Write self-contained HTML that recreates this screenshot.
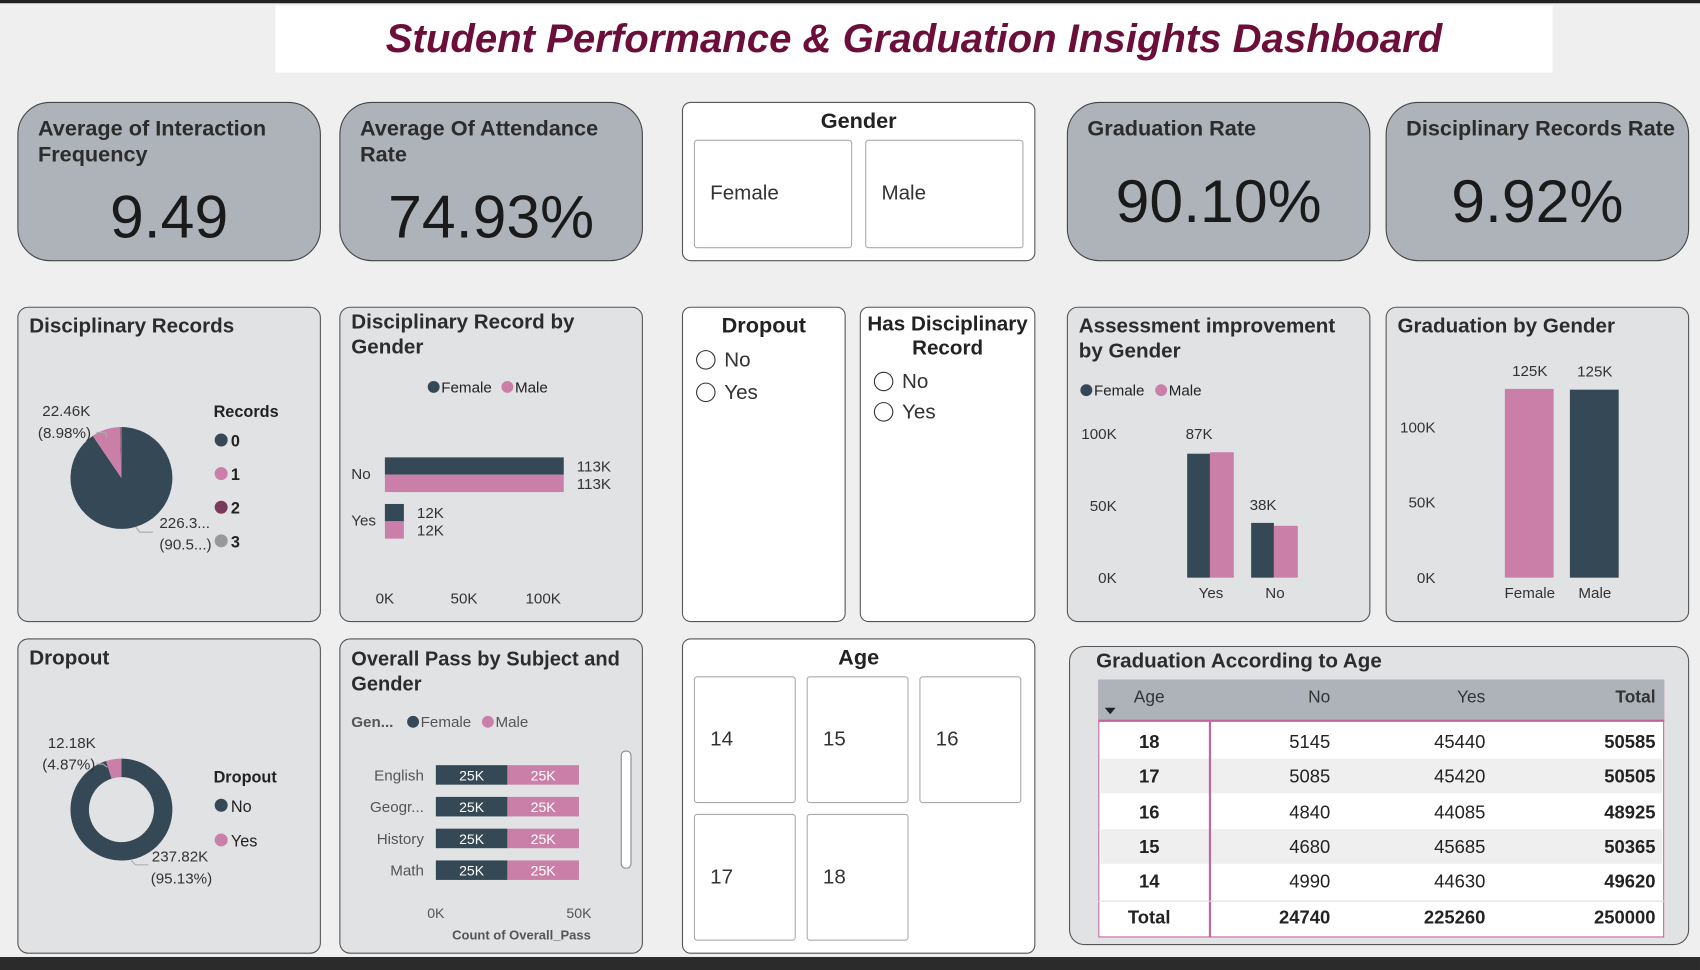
<!DOCTYPE html>
<html><head><meta charset="utf-8"><style>
html,body{margin:0;padding:0;width:1700px;height:970px;overflow:hidden;background:#efefef;font-family:"Liberation Sans",sans-serif;}
#wrap{position:absolute;left:0;top:0;width:1568px;height:895px;transform:scale(1.08418,1.0838);transform-origin:0 0;background:#efefef;}
.abs{position:absolute;box-sizing:border-box;}
.kpi{background:#adb3b9;border:1.5px solid #444;border-radius:30px;}
.kpi .t{position:absolute;left:18px;top:12px;font-size:20px;font-weight:bold;color:#2c2c2c;line-height:24px;}
.kpi .v{position:absolute;left:0;right:0;text-align:center;top:72px;font-size:56px;color:#1a1a1a;}
.card{background:#e1e2e4;border:1.5px solid #555;border-radius:10px;}
.card .t{position:absolute;left:10px;top:6px;font-size:19px;font-weight:bold;color:#2c2c2c;line-height:23px;}
.sl{background:#fff;border:1.5px solid #555;border-radius:8px;}
.tile{position:absolute;background:#fff;border:1px solid #aaa;border-radius:3px;font-size:19px;color:#333;box-sizing:border-box;display:flex;align-items:center;padding-left:14px;}
svg text{font-family:"Liberation Sans",sans-serif;}
.rad{font-size:19px;color:#333;position:absolute;}
.rad span{display:inline-block;width:16px;height:16px;border:1.5px solid #333;border-radius:50%;vertical-align:-3px;margin-right:8px;}
</style></head><body>
<div id="wrap">
<div class="abs" style="left:0;top:0;width:1568px;height:3px;background:#222"></div>
<div class="abs" style="left:254px;top:5px;width:1178px;height:62px;background:#fff;text-align:center;font-size:37px;font-weight:bold;font-style:italic;color:#6b0f3a;line-height:62px">Student Performance &amp; Graduation Insights Dashboard</div>

<div class="abs kpi" style="left:16px;top:94px;width:280px;height:147px"><div class="t">Average of Interaction<br>Frequency</div><div class="v">9.49</div></div>
<div class="abs kpi" style="left:313px;top:94px;width:280px;height:147px"><div class="t">Average Of Attendance<br>Rate</div><div class="v">74.93%</div></div>
<div class="abs kpi" style="left:984px;top:94px;width:280px;height:147px"><div class="t">Graduation Rate</div><div class="v" style="top:58px">90.10%</div></div>
<div class="abs kpi" style="left:1278px;top:94px;width:280px;height:147px"><div class="t">Disciplinary Records Rate</div><div class="v" style="top:58px">9.92%</div></div>

<div class="abs sl" style="left:629px;top:94px;width:326px;height:147px">
<div style="text-align:center;font-size:20px;font-weight:bold;margin-top:6px;color:#222">Gender</div>
<div class="tile" style="left:10px;top:34px;width:146px;height:100px">Female</div>
<div class="tile" style="left:168px;top:34px;width:146px;height:100px">Male</div>
</div>

<div class="abs sl" style="left:629px;top:283px;width:151px;height:291px">
<div style="text-align:center;font-size:20px;font-weight:bold;margin-top:6px;color:#222">Dropout</div>
<div class="rad" style="left:12px;top:38px"><span></span>No</div>
<div class="rad" style="left:12px;top:68px"><span></span>Yes</div>
</div>
<div class="abs sl" style="left:793px;top:283px;width:162px;height:291px">
<div style="text-align:center;font-size:19px;font-weight:bold;margin-top:5px;color:#222;line-height:22px">Has Disciplinary<br>Record</div>
<div class="rad" style="left:12px;top:58px"><span></span>No</div>
<div class="rad" style="left:12px;top:86px"><span></span>Yes</div>
</div>

<div class="abs sl" style="left:629px;top:589px;width:326px;height:291px">
<div style="text-align:center;font-size:20px;font-weight:bold;margin-top:6px;color:#222">Age</div>
<div class="tile" style="left:10px;top:34px;width:94px;height:117px">14</div>
<div class="tile" style="left:114px;top:34px;width:94px;height:117px">15</div>
<div class="tile" style="left:218px;top:34px;width:94px;height:117px">16</div>
<div class="tile" style="left:10px;top:161px;width:94px;height:117px">17</div>
<div class="tile" style="left:114px;top:161px;width:94px;height:117px">18</div>
</div>

<div class="abs card" style="left:16px;top:283px;width:280px;height:291px"><div class="t">Disciplinary Records</div><svg id="pie1" class="abs" style="left:0;top:0" width="280" height="291"></svg></div>
<div class="abs card" style="left:313px;top:283px;width:280px;height:291px"><div class="t" style="top:2px">Disciplinary Record by<br>Gender</div><svg id="hbar" class="abs" style="left:0;top:0" width="280" height="291"></svg></div>
<div class="abs card" style="left:984px;top:283px;width:280px;height:291px"><div class="t">Assessment improvement<br>by Gender</div><svg id="assess" class="abs" style="left:0;top:0" width="280" height="291"></svg></div>
<div class="abs card" style="left:1278px;top:283px;width:280px;height:291px"><div class="t">Graduation by Gender</div><svg id="grad" class="abs" style="left:0;top:0" width="280" height="291"></svg></div>
<div class="abs card" style="left:16px;top:589px;width:280px;height:291px"><div class="t">Dropout</div><svg id="donut" class="abs" style="left:0;top:0" width="280" height="291"></svg></div>
<div class="abs card" style="left:313px;top:589px;width:280px;height:291px"><div class="t" style="font-size:18.5px">Overall Pass by Subject and<br>Gender</div><svg id="pass" class="abs" style="left:0;top:0" width="280" height="291"></svg></div>

<div class="abs card" style="left:986px;top:596px;width:572px;height:276px;border-radius:14px"><div class="t" style="left:24px;top:2px;font-size:19px">Graduation According to Age</div><div id="tbl" class="abs" style="left:26px;top:30px;width:522px;height:238px"></div></div>

<div class="abs" style="left:0;top:883px;width:1568px;height:12px;background:#2b2b2b"></div>
</div>
<script>
const DARK="#344855",PINK="#c97fa8";
const NS="http://www.w3.org/2000/svg";
function mk(svg,tag,at,txt){const e=document.createElementNS(NS,tag);for(const k in at)e.setAttribute(k,at[k]);if(txt!==undefined)e.textContent=txt;svg.appendChild(e);return e;}
// ---- data ----
const recCats=["0","1","2","3"];
const recVals=[226.3,22.46,0.7,0.6];
const recColors=[DARK,PINK,"#7a3a5a","#999"];
const dropCats=["No","Yes"];
const dropVals=[237.82,12.18];
const discCats=["No","Yes"];
const discFemale=[113,12];
const discMale=[113,12];
const assessCats=["Yes","No"];
const assessFemale=[86,38];
const assessMale=[87,36];
const gradCats=["Female","Male"];
const gradVals=[125.3,124.8];
const subjects=["English","Geogr...","History","Math"];
const passFemale=[25,25,25,25];
const passMale=[25,25,25,25];
const ages=["18","17","16","15","14"];
const ageNo=[5145,5085,4840,4680,4990];
const ageYes=[45440,45420,44085,45685,44630];

function pie(svg,cx,cy,r,ri,vals,cols,name){
  const tot=vals.reduce((a,b)=>a+b,0);let a0=0;
  vals.forEach((v,i)=>{const a1=a0+v/tot*2*Math.PI;
    const p=(a,rr)=>[cx+rr*Math.sin(a),cy-rr*Math.cos(a)];
    const[x0,y0]=p(a0,r),[x1,y1]=p(a1,r),lg=(a1-a0)>Math.PI?1:0;
    let d=`M${x0},${y0}A${r},${r} 0 ${lg} 1 ${x1},${y1}`;
    if(ri>0){const[x2,y2]=p(a1,ri),[x3,y3]=p(a0,ri);d+=`L${x2},${y2}A${ri},${ri} 0 ${lg} 0 ${x3},${y3}Z`;}else d+=`L${cx},${cy}Z`;
    const e=mk(svg,"path",{d:d,fill:cols[i]});
    
    
    a0=a1;});
}
(function(){const s=document.getElementById("pie1");const tot=recVals.reduce((a,b)=>a+b,0);
pie(s,95,157,47,0,recVals,recColors,"records");
mk(s,"text",{x:22,y:100,"font-size":14,fill:"#333"},recVals[1].toFixed(2)+"K");
mk(s,"text",{x:18,y:120,"font-size":14,fill:"#333"},"("+(recVals[1]/tot*100).toFixed(2)+"%)");
mk(s,"text",{x:130,y:203,"font-size":14,fill:"#333"},"226.3...");
mk(s,"text",{x:130,y:223,"font-size":14,fill:"#333"},"(90.5...)");
mk(s,"polyline",{points:"72,115 80,115 82,120",fill:"none",stroke:"#aaa"});
mk(s,"polyline",{points:"108,202 112,207 124,207",fill:"none",stroke:"#aaa"});
mk(s,"text",{x:180,y:101,"font-size":15,"font-weight":"bold",fill:"#222"},"Records");
recCats.forEach((c,i)=>{const y=122+i*31;const g=mk(s,"g",{});
mk(g,"circle",{cx:187,cy:y,r:6,fill:recColors[i]});mk(g,"text",{x:196,y:y+6,"font-size":15,"font-weight":"bold",fill:"#222"},c);});
})();
(function(){const s=document.getElementById("donut");const tot=dropVals.reduce((a,b)=>a+b,0);
pie(s,95,157,47,30,dropVals,[DARK,PINK],"dropout");
mk(s,"text",{x:27,y:100,"font-size":14,fill:"#333"},dropVals[1].toFixed(2)+"K");
mk(s,"text",{x:22,y:120,"font-size":14,fill:"#333"},"("+(dropVals[1]/tot*100).toFixed(2)+"%)");
mk(s,"text",{x:123,y:205,"font-size":14,fill:"#333"},dropVals[0].toFixed(2)+"K");
mk(s,"text",{x:122,y:225,"font-size":14,fill:"#333"},"("+(dropVals[0]/tot*100).toFixed(2)+"%)");
mk(s,"polyline",{points:"72,115 78,115 82,118",fill:"none",stroke:"#aaa"});
mk(s,"polyline",{points:"104,204 108,208 120,208",fill:"none",stroke:"#aaa"});
mk(s,"text",{x:180,y:132,"font-size":15,"font-weight":"bold",fill:"#222"},"Dropout");
dropCats.forEach((c,i)=>{const y=153+i*32;const g=mk(s,"g",{});
mk(g,"circle",{cx:187,cy:y,r:6,fill:[DARK,PINK][i]});mk(g,"text",{x:196,y:y+6,"font-size":15,fill:"#222"},c);});
})();
(function(){const s=document.getElementById("hbar");const x0=41,k=1.46,xs=v=>x0+v*k;
mk(s,"circle",{cx:86,cy:73,r:5.5,fill:DARK});mk(s,"text",{x:93,y:78,"font-size":14,fill:"#222"},"Female");
mk(s,"circle",{cx:154,cy:73,r:5.5,fill:PINK});mk(s,"text",{x:161,y:78,"font-size":14,fill:"#222"},"Male");
const ys=[138,181];
discCats.forEach((c,i)=>{mk(s,"text",{x:10,y:ys[i]+20,"font-size":14,fill:"#333"},c);
 const b1=mk(s,"rect",{x:x0,y:ys[i],width:xs(discFemale[i])-x0,height:16,fill:DARK});
 const b2=mk(s,"rect",{x:x0,y:ys[i]+16,width:xs(discMale[i])-x0,height:16,fill:PINK});
 mk(s,"text",{x:xs(discFemale[i])+12,y:ys[i]+13,"font-size":14,fill:"#333"},discFemale[i]+"K");
 mk(s,"text",{x:xs(discMale[i])+12,y:ys[i]+29,"font-size":14,fill:"#333"},discMale[i]+"K");});
[0,50,100].forEach(t=>mk(s,"text",{x:xs(t),y:273,"font-size":14,fill:"#333","text-anchor":"middle"},t+"K"));
})();
(function(){const s=document.getElementById("assess");const y0=249,k=1.33,ys=v=>y0-v*k;
mk(s,"circle",{cx:17,cy:76,r:5.5,fill:DARK});mk(s,"text",{x:24,y:81,"font-size":14,fill:"#222"},"Female");
mk(s,"circle",{cx:86,cy:76,r:5.5,fill:PINK});mk(s,"text",{x:93,y:81,"font-size":14,fill:"#222"},"Male");
[0,50,100].forEach(t=>mk(s,"text",{x:45,y:ys(t)+5,"font-size":14,fill:"#333","text-anchor":"end"},t+"K"));
const gx=[110,169];
assessCats.forEach((c,i)=>{const x=gx[i];
 const b1=mk(s,"rect",{x:x,y:ys(assessFemale[i]),width:21,height:assessFemale[i]*k,fill:DARK});
 const b2=mk(s,"rect",{x:x+21,y:ys(assessMale[i]),width:22,height:assessMale[i]*k,fill:PINK});
 mk(s,"text",{x:x+11,y:ys(Math.max(assessFemale[i],assessMale[i]))-12,"font-size":14,fill:"#333","text-anchor":"middle"},Math.max(assessFemale[i],assessMale[i])+"K");
 mk(s,"text",{x:x+22,y:268,"font-size":14,fill:"#333","text-anchor":"middle"},c);});
})();
(function(){const s=document.getElementById("grad");const y0=249,k=1.39,ys=v=>y0-v*k;
[0,50,100].forEach(t=>mk(s,"text",{x:45,y:ys(t)+5,"font-size":14,fill:"#333","text-anchor":"end"},t+"K"));
const gx=[109,169];const cols=[PINK,DARK];
gradCats.forEach((c,i)=>{const b=mk(s,"rect",{x:gx[i],y:ys(gradVals[i]),width:45,height:gradVals[i]*k,fill:cols[i]});
 mk(s,"text",{x:gx[i]+23,y:ys(gradVals[i])-12,"font-size":14,fill:"#333","text-anchor":"middle"},Math.round(gradVals[i])+"K");
 mk(s,"text",{x:gx[i]+23,y:268,"font-size":14,fill:"#333","text-anchor":"middle"},c);});
})();
(function(){const s=document.getElementById("pass");const x0=88,k=2.64,xs=v=>x0+v*k;
mk(s,"text",{x:10,y:81,"font-size":14,"font-weight":"bold",fill:"#555"},"Gen...");
mk(s,"circle",{cx:67,cy:76,r:5.5,fill:DARK});mk(s,"text",{x:74,y:81,"font-size":14,fill:"#555"},"Female");
mk(s,"circle",{cx:136,cy:76,r:5.5,fill:PINK});mk(s,"text",{x:143,y:81,"font-size":14,fill:"#555"},"Male");
subjects.forEach((c,i)=>{const y=116+i*29.3;
 mk(s,"text",{x:77,y:y+14,"font-size":14,fill:"#555","text-anchor":"end"},c);
 const b1=mk(s,"rect",{x:x0,y:y,width:passFemale[i]*k,height:18,fill:DARK});
 const b2=mk(s,"rect",{x:xs(passFemale[i]),y:y,width:passMale[i]*k,height:18,fill:PINK});
 mk(s,"text",{x:x0+passFemale[i]*k/2,y:y+14,"font-size":13,fill:"#fff","text-anchor":"middle"},passFemale[i]+"K");
 mk(s,"text",{x:xs(passFemale[i])+passMale[i]*k/2,y:y+14,"font-size":13,fill:"#fff","text-anchor":"middle"},passMale[i]+"K");});
[0,50].forEach(t=>mk(s,"text",{x:xs(t),y:257,"font-size":13,fill:"#555","text-anchor":"middle"},t+"K"));
mk(s,"text",{x:167,y:277,"font-size":12,"font-weight":"bold",fill:"#555","text-anchor":"middle"},"Count of Overall_Pass");
const sb=mk(s,"rect",{x:259,y:103,width:9,height:108,rx:4,fill:"#fff",stroke:"#888"});
})();
(function(){const t=document.getElementById("tbl");const cols=[0,102,222,365,522];
let h='<div style="position:absolute;left:0;top:0;width:522px;height:238px;border:1.5px solid #c0669a;box-sizing:border-box;background:#fff"></div>';
h+='<div style="position:absolute;left:0;top:0;width:522px;height:39px;background:#adb3b9;border-bottom:2px solid #c0669a;box-sizing:border-box"></div>';
const hd=["Age","No","Yes","Total"];
hd.forEach((x,i)=>{h+=`<div style="position:absolute;left:${cols[i]}px;width:${cols[i+1]-cols[i]-8}px;top:8px;font-size:16px;color:#333;${i==0?'text-align:center':'text-align:right'};${i==3?'font-weight:bold':''}">${x}</div>`;});
h+='<div style="position:absolute;left:6px;top:26px;width:0;height:0;border-left:5px solid transparent;border-right:5px solid transparent;border-top:6px solid #222"></div>';
const rows=ages.map((a,i)=>[a,ageNo[i],ageYes[i],ageNo[i]+ageYes[i]]);
rows.push(["Total",ageNo.reduce((a,b)=>a+b,0),ageYes.reduce((a,b)=>a+b,0),ageNo.reduce((a,b)=>a+b,0)+ageYes.reduce((a,b)=>a+b,0)]);
rows.forEach((r,j)=>{const y=41+j*32.3;
 if(j%2==1&&j<5)h+=`<div style="position:absolute;left:2px;top:${y}px;width:518px;height:32px;background:#efefef"></div>`;
 r.forEach((v,i)=>{const b=(i==0||i==3||j==5);h+=`<div style="position:absolute;left:${cols[i]}px;width:${cols[i+1]-cols[i]-8}px;top:${y+7}px;font-size:17px;color:#222;${i==0?'text-align:center':'text-align:right'};${b?'font-weight:bold':''}">${v}</div>`;});});
h+='<div style="position:absolute;left:102px;top:39px;width:2px;height:199px;background:#c0669a"></div>';
h+='<div style="position:absolute;left:0;top:204px;width:522px;height:1px;background:#ddd"></div>';
t.innerHTML=h;})();
</script>
</body></html>
